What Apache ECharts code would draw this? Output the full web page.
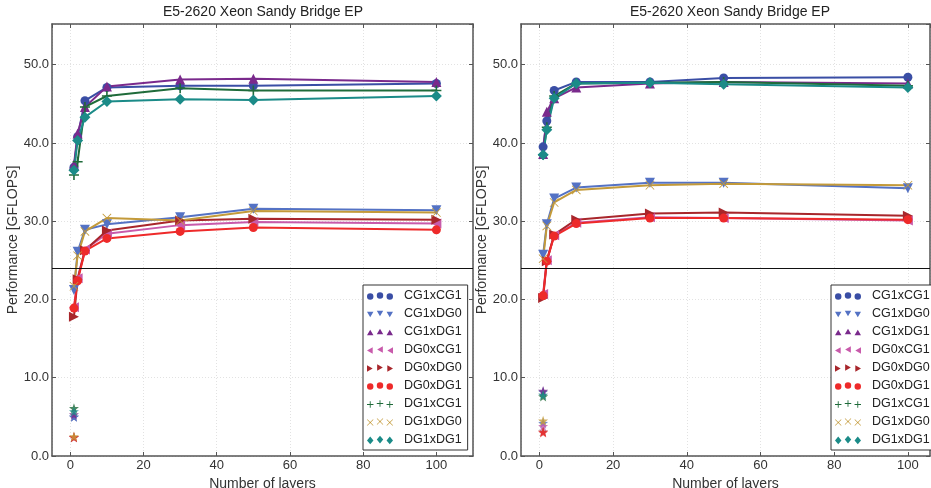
<!DOCTYPE html>
<html>
<head>
<meta charset="utf-8">
<script src="https://cdn.jsdelivr.net/npm/echarts@6/dist/echarts.min.js"></script>
<style>
html,body{margin:0;padding:0;background:#fff;}
#chart{width:931px;height:488px;}
</style>
</head>
<body>
<div id="chart"></div>
<script>
// ---------------- data ----------------
const layers = [1, 2, 4, 10, 30, 50, 100];
const configNames = ['CG1xCG1','CG1xDG0','CG1xDG1','DG0xCG1','DG0xDG0','DG0xDG1','DG1xCG1','DG1xDG0','DG1xDG1'];
const chartTitle = 'E5-2620 Xeon Sandy Bridge EP';
const yTicks = [0, 10, 20, 30, 40, 50];
const xTicks = [0, 20, 40, 60, 80, 100];
const referenceLine = 24;

const left_CG1xCG1 = [36.9, 40.8, 45.4, 47.1, 47.3, 47.3, 47.6];
const left_CG1xDG0 = [21.2, 26.1, 28.9, 29.6, 30.5, 31.6, 31.4];
const left_CG1xDG1 = [37.2, 41.2, 44.6, 47.2, 48.1, 48.2, 47.8];
const left_DG0xCG1 = [19.0, 22.7, 26.4, 28.4, 29.5, 29.9, 29.7];
const left_DG0xDG0 = [17.8, 22.6, 26.3, 28.8, 30.1, 30.3, 30.2];
const left_DG0xDG1 = [18.9, 22.4, 26.2, 27.8, 28.7, 29.2, 28.9];
const left_DG1xCG1 = [35.9, 37.6, 44.6, 46.0, 47.0, 46.7, 46.7];
const left_DG1xDG0 = [21.7, 25.6, 28.7, 30.4, 30.1, 31.3, 31.1];
const left_DG1xDG1 = [36.5, 40.3, 43.3, 45.3, 45.6, 45.5, 46.0];
const left_stars   = [5.0, 5.0, 5.3, 2.4, 2.4, 2.4, 6.1, 2.5, 5.7];

const right_CG1xCG1 = [39.5, 42.8, 46.7, 47.8, 47.8, 48.3, 48.4];
const right_CG1xDG0 = [25.7, 29.6, 32.9, 34.3, 34.9, 34.9, 34.2];
const right_CG1xDG1 = [38.6, 44.0, 45.7, 47.1, 47.6, 47.8, 47.6];
const right_DG0xCG1 = [20.7, 25.0, 28.2, 29.8, 30.5, 30.4, 30.1];
const right_DG0xDG0 = [20.2, 24.9, 28.3, 30.2, 31.0, 31.1, 30.7];
const right_DG0xDG1 = [20.5, 24.9, 28.1, 29.7, 30.4, 30.4, 30.2];
const right_DG1xCG1 = [38.5, 42.0, 46.0, 47.6, 47.7, 47.8, 47.3];
const right_DG1xDG0 = [25.2, 29.4, 32.4, 34.0, 34.6, 34.8, 34.6];
const right_DG1xDG1 = [38.5, 41.7, 45.7, 47.6, 47.7, 47.5, 47.1];
const right_stars   = [8.2, 4.2, 8.3, 3.8, 3.1, 3.0, 7.6, 4.5, 7.8];

const leftSeries = [left_CG1xCG1, left_CG1xDG0, left_CG1xDG1, left_DG0xCG1, left_DG0xDG0, left_DG0xDG1, left_DG1xCG1, left_DG1xDG0, left_DG1xDG1];
const rightSeries = [right_CG1xCG1, right_CG1xDG0, right_CG1xDG1, right_DG0xCG1, right_DG0xDG0, right_DG0xDG1, right_DG1xCG1, right_DG1xDG0, right_DG1xDG1];

// ---------------- styles ----------------
const colors = ['#3a4ea5','#5472c4','#7a2a8c','#c85aab','#a8262b','#ee2a2a','#1f6b3a','#c39a3a','#1b8b88'];
const FONT = '"Liberation Sans", Arial, Helvetica, sans-serif';

const PLUS = 'path://M-0.8,-5 L0.8,-5 L0.8,-0.8 L5,-0.8 L5,0.8 L0.8,0.8 L0.8,5 L-0.8,5 L-0.8,0.8 L-5,0.8 L-5,-0.8 L-0.8,-0.8 Z';
const CROSS = 'path://M-4.4,-5 L5,4.4 L4.4,5 L-5,-4.4 Z M4.4,-5 L5,-4.4 L-4.4,5 L-5,4.4 Z';
const STAR = 'path://M0,-10 L2.35,-3.24 L9.51,-3.09 L3.8,1.24 L5.88,8.09 L0,4 L-5.88,8.09 L-3.8,1.24 L-9.51,-3.09 L-2.35,-3.24 Z';
const symbols = [
  {s:'circle', r:0, size:9},
  {s:'triangle', r:180, size:10},
  {s:'triangle', r:0, size:10},
  {s:'triangle', r:90, size:10},
  {s:'triangle', r:-90, size:10},
  {s:'circle', r:0, size:9},
  {s:PLUS, r:0, size:10},
  {s:CROSS, r:0, size:9},
  {s:'diamond', r:0, size:11}
];

// legend icons: three small markers, the middle one slightly raised
function shapePath(kind, cx, cy, h) {
  const f = n => n.toFixed(2);
  switch (kind) {
    case 'circle':
      return `M${f(cx-h)},${f(cy)} A${h},${h} 0 1,0 ${f(cx+h)},${f(cy)} A${h},${h} 0 1,0 ${f(cx-h)},${f(cy)} Z `;
    case 'down':
      return `M${f(cx-h)},${f(cy-h*0.8)} L${f(cx+h)},${f(cy-h*0.8)} L${f(cx)},${f(cy+h*0.9)} Z `;
    case 'up':
      return `M${f(cx-h)},${f(cy+h*0.8)} L${f(cx+h)},${f(cy+h*0.8)} L${f(cx)},${f(cy-h*0.9)} Z `;
    case 'left':
      return `M${f(cx+h*0.8)},${f(cy-h)} L${f(cx+h*0.8)},${f(cy+h)} L${f(cx-h*0.9)},${f(cy)} Z `;
    case 'right':
      return `M${f(cx-h*0.8)},${f(cy-h)} L${f(cx-h*0.8)},${f(cy+h)} L${f(cx+h*0.9)},${f(cy)} Z `;
    case 'plus': {
      const t = 0.45;
      return `M${f(cx-t)},${f(cy-h)} L${f(cx+t)},${f(cy-h)} L${f(cx+t)},${f(cy-t)} L${f(cx+h)},${f(cy-t)} L${f(cx+h)},${f(cy+t)} L${f(cx+t)},${f(cy+t)} L${f(cx+t)},${f(cy+h)} L${f(cx-t)},${f(cy+h)} L${f(cx-t)},${f(cy+t)} L${f(cx-h)},${f(cy+t)} L${f(cx-h)},${f(cy-t)} L${f(cx-t)},${f(cy-t)} Z `;
    }
    case 'cross': {
      const a = 0.4;
      return `M${f(cx-h+a)},${f(cy-h)} L${f(cx+h)},${f(cy+h-a)} L${f(cx+h-a)},${f(cy+h)} L${f(cx-h)},${f(cy-h+a)} Z ` +
             `M${f(cx+h-a)},${f(cy-h)} L${f(cx+h)},${f(cy-h+a)} L${f(cx-h+a)},${f(cy+h)} L${f(cx-h)},${f(cy+h-a)} Z `;
    }
    case 'diamond':
      return `M${f(cx)},${f(cy-h*1.2)} L${f(cx+h)},${f(cy)} L${f(cx)},${f(cy+h*1.2)} L${f(cx-h)},${f(cy)} Z `;
  }
}
const legendKinds = ['circle','down','up','left','right','circle','plus','cross','diamond'];
function legendIcon(kind) {
  const h = 3.3;
  let p = '';
  p += shapePath(kind, 4, 5, h);
  p += shapePath(kind, 14, 4, h);
  p += shapePath(kind, 24, 5, h);
  return 'path://' + p;
}

// ---------------- option ----------------
const Y_MAX = 55.2;
const axisLineStyle = {color:'#555', width:1.5};
function xAxisPair(gridIndex, max) {
  return [
    {type:'value', gridIndex, min:-5, max, splitNumber:5,
     name:'Number of layers', nameLocation:'middle', nameGap:16,
     nameTextStyle:{fontFamily:FONT, fontSize:14, color:'#333'},
     axisLine:{show:true, onZero:false, lineStyle:axisLineStyle},
     axisTick:{show:true, inside:true, length:4, lineStyle:{color:'#555'}},
     axisLabel:{fontFamily:FONT, fontSize:13, color:'#333', margin:3, showMinLabel:false, showMaxLabel:false,
       formatter: v => xTicks.includes(v) ? String(v) : ''},
     splitLine:{show:true, lineStyle:{color:'#e2e2e2', type:[1,2], width:1}}},
    {type:'value', gridIndex, min:-5, max, splitNumber:5, position:'top',
     axisLine:{show:true, onZero:false, lineStyle:axisLineStyle},
     axisTick:{show:true, inside:true, length:4, lineStyle:{color:'#555'}},
     axisLabel:{show:false}, splitLine:{show:false}}
  ];
}
function yAxisPair(gridIndex) {
  return [
    {type:'value', gridIndex, min:0, max:Y_MAX, interval:10,
     name:'Performance [GFLOPS]', nameLocation:'middle', nameGap:26,
     nameTextStyle:{fontFamily:FONT, fontSize:14, color:'#333'},
     axisLine:{show:true, onZero:false, lineStyle:axisLineStyle},
     axisTick:{show:true, inside:true, length:4, lineStyle:{color:'#555'}},
     axisLabel:{fontFamily:FONT, fontSize:13, color:'#333', margin:3, showMaxLabel:false,
       formatter: v => yTicks.includes(v) ? v.toFixed(1) : ''},
     splitLine:{show:true, lineStyle:{color:'#e2e2e2', type:[1,2], width:1}}},
    {type:'value', gridIndex, min:0, max:Y_MAX, interval:10, position:'right',
     axisLine:{show:true, onZero:false, lineStyle:axisLineStyle},
     axisTick:{show:true, inside:true, length:4, lineStyle:{color:'#555'}},
     axisLabel:{show:false}, splitLine:{show:false}}
  ];
}

function buildSeries(panelData, stars, xIdx, yIdx) {
  const out = [];
  panelData.forEach((arr, i) => {
    const sym = symbols[i];
    const s = {
      type:'line', name:configNames[i], xAxisIndex:xIdx, yAxisIndex:yIdx,
      data: layers.map((x, k) => [x, arr[k]]),
      symbol: sym.s, symbolRotate: sym.r, symbolSize: sym.size, showSymbol:true,
      lineStyle:{color:colors[i], width:2},
      itemStyle:{color:colors[i], borderWidth:0},
      emphasis:{disabled:true},
      z: 2
    };
    if (i === 0) {
      s.markLine = {silent:true, symbol:['none','none'], label:{show:false},
        lineStyle:{color:'#111', width:1, type:'solid'},
        data:[{yAxis:referenceLine}], animation:false};
    }
    out.push(s);
  });
  stars.forEach((v, i) => {
    out.push({
      type:'scatter', name:configNames[i], xAxisIndex:xIdx, yAxisIndex:yIdx,
      data:[[layers[0], v]], symbol:STAR, symbolSize:10,
      itemStyle:{color:colors[i]}, emphasis:{disabled:true}, z:3
    });
  });
  return out;
}

function legendFor(left, width) {
  return {
    orient:'vertical', left, top:285, width,
    padding:[4, 6, 3, 4],
    itemWidth:26, itemHeight:9, itemGap:4,
    backgroundColor:'#fff', borderColor:'#333', borderWidth:1, borderRadius:0,
    selectedMode:false,
    itemStyle:{borderWidth:0},
    textStyle:{fontFamily:FONT, fontSize:12.5, color:'#222', lineHeight:14, padding:[0,0,0,6]},
    data: configNames.map((n, i) => ({name:n, icon:legendIcon(legendKinds[i])}))
  };
}

const option = {
  animation:false,
  backgroundColor:'#fff',
  title:[
    {text:chartTitle, left:163, top:5, padding:0, textStyle:{fontFamily:FONT, fontSize:14, fontWeight:'normal', color:'#222'}},
    {text:chartTitle, left:630, top:5, padding:0, textStyle:{fontFamily:FONT, fontSize:14, fontWeight:'normal', color:'#222'}}
  ],
  grid:[
    {left:52, right:458, top:24, bottom:32, outerBoundsMode:'none', containLabel:false},
    {left:521, right:1, top:24, bottom:32, outerBoundsMode:'none', containLabel:false}
  ],
  xAxis:[...xAxisPair(0, 110), ...xAxisPair(1, 106)],
  yAxis:[...yAxisPair(0), ...yAxisPair(1)],
  legend:[legendFor(363, 103), legendFor(831, 96)],
  series:[...buildSeries(leftSeries, left_stars, 0, 0), ...buildSeries(rightSeries, right_stars, 2, 2)]
};

const chart = echarts.init(document.getElementById('chart'), null, {renderer:'canvas'});
chart.setOption(option);
</script>
</body>
</html>
